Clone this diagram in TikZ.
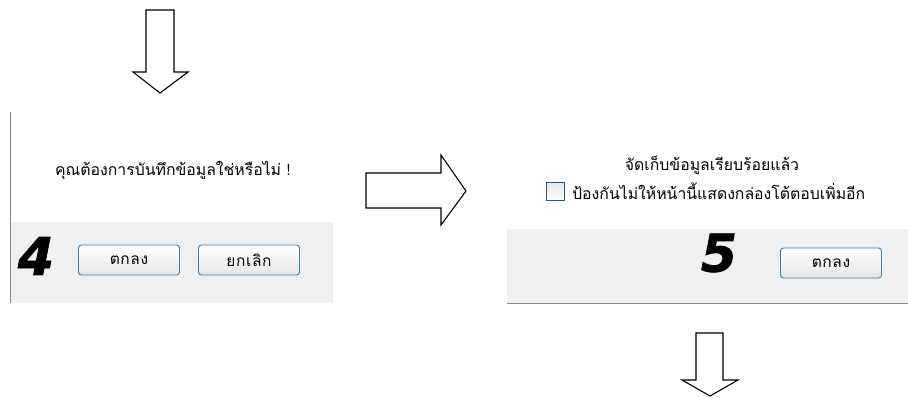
\documentclass[tikz,border=0pt]{standalone}
\usepackage{fontspec}
\newfontfamily\thai[Script=Thai]{Loma}
\newfontfamily\thaib[Script=Thai,LetterSpace=4]{Loma}
\newfontfamily\digitfont[BoldItalicFeatures={FakeBold=1.5}]{DejaVu Sans}
\usetikzlibrary{shadings}
\definecolor{footgray}{HTML}{F0F0F0}
\definecolor{btnblue}{HTML}{3C7FB1}
\definecolor{edgegray}{HTML}{8A8A8A}
\tikzset{
  blockarrow/.style={draw=black, line width=1.1pt, fill=white, line join=miter},
  btn/.style={draw=btnblue, line width=0.9pt, rounded corners=3pt, top color=white, bottom color=black!10, minimum width=101pt, minimum height=30pt, inner sep=0pt, font=\thaib\fontsize{15.5}{17}\selectfont},
  msg/.style={font=\thai\fontsize{15.8}{18}\selectfont, inner sep=0pt},
  bignum/.style={font=\digitfont\bfseries\itshape\fontsize{52}{52}\selectfont, inner sep=0pt}
}
\begin{document}
\begin{tikzpicture}[x=1pt,y=-1pt]
\useasboundingbox (0,0) rectangle (908,397);
% top arrow
\draw[blockarrow] (146,10) -- (174,10) -- (174,72) -- (188,72) -- (160,93) -- (133,72) -- (146,72) -- cycle;
% left dialog
\fill[footgray] (10,222) rectangle (333,303);
\draw[black!6, line width=0.8pt] (10,222) -- (333,222);
\draw[edgegray, line width=1pt] (10,112) -- (10,303);
\node[msg] (q) at (173,170) {คุณต้องการบันทึกข้อมูลใช่หรือไม่ !};
\node[bignum] (n4) at (36,256) {4};
\node[btn] (ok1) at (129,260) {ตกลง};
\node[btn] (cancel) at (249,260) {ยกเลิก};
% right arrow
\draw[blockarrow] (366,173) -- (441,173) -- (441,155) -- (466,191) -- (441,225) -- (441,208) -- (366,208) -- cycle;
% right dialog
\fill[footgray] (507,229) rectangle (908,303);
\draw[black!6, line width=0.8pt] (507,229) -- (908,229);
\draw[edgegray, line width=1pt] (507,303) -- (908,303);
\node[msg] (done) at (712,165) {จัดเก็บข้อมูลเรียบร้อยแล้ว};
\node[draw=btnblue!70!black, line width=0.8pt, top color=black!10, bottom color=white, minimum size=18pt, inner sep=0pt] (cb) at (555,191) {};
\node[msg, anchor=west] (cbtext) at (572,191) {ป้องกันไม่ให้หน้านี้แสดงกล่องโต้ตอบเพิ่มอีก};
\node[bignum] (n5) at (719,253) {5};
\node[btn] (ok2) at (831,263) {ตกลง};
% bottom arrow
\draw[blockarrow] (696,333) -- (723,333) -- (723,380) -- (738,380) -- (710,396) -- (682,380) -- (696,380) -- cycle;
\end{tikzpicture}
\end{document}
